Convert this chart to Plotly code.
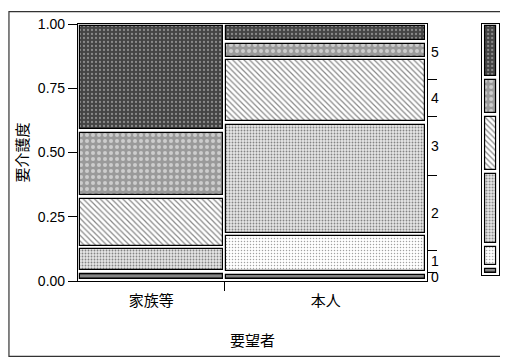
import plotly.graph_objects as go

# 要望者 (columns) and their share of the total
groups = ["家族等", "本人"]
group_share = [0.42, 0.58]

# 要介護度 levels, bottom to top
levels = ["0", "1", "2", "3", "4", "5"]

# proportion of each level within each column
kazoku = [0.035, 0.0, 0.096, 0.195, 0.257, 0.417]
honnin = [0.031, 0.150, 0.433, 0.251, 0.064, 0.071]

cols = [kazoku, honnin]

# fill patterns per level (bottom to top)
styles = [
    dict(bg="#8a8a8a", fg="#222222", shape="-", size=3, solidity=0.4),
    dict(bg="#ffffff", fg="#444444", shape=".", size=3, solidity=0.2),
    dict(bg="#e6e6e6", fg="#222222", shape=".", size=3, solidity=0.3),
    dict(bg="#ffffff", fg="#111111", shape="\\", size=4, solidity=0.3),
    dict(bg="#9a9a9a", fg="#ffffff", shape=".", size=6, solidity=0.35),
    dict(bg="#444444", fg="#cfcfcf", shape=".", size=4, solidity=0.25),
]

gap = 0.007
xgap = 0.009

# column positions
lefts = [0]
for s in group_share[:-1]:
    lefts.append(lefts[-1] + s)
centers = [l + s / 2 for l, s in zip(lefts, group_share)]

# marginal distribution of levels
marg = [sum(group_share[j] * cols[j][i] for j in range(len(cols))) for i in range(len(levels))]
mcum = [0]
for m in marg:
    mcum.append(mcum[-1] + m)
mmid = [(mcum[i] + mcum[i + 1]) / 2 for i in range(len(levels))]

fig = go.Figure()

for i, lev in enumerate(levels):
    xs, ys, bs, ws = [], [], [], []
    for j, col in enumerate(cols):
        if col[i] <= 0:
            continue
        start = sum(col[:i])
        xs.append(centers[j])
        bs.append(start + gap)
        ys.append(col[i] - 2 * gap)
        ws.append(group_share[j] - xgap)
    st = styles[i]
    pat = dict(shape=st["shape"], fgcolor=st["fg"], bgcolor=st["bg"],
               size=st["size"], solidity=st["solidity"])
    fig.add_trace(go.Bar(
        x=xs, y=ys, base=bs, width=ws, name=lev, showlegend=False,
        marker=dict(color=st["bg"], line=dict(color="black", width=1.2), pattern=pat),
        hoverinfo="skip",
    ))
    # marginal bar on the right
    fig.add_trace(go.Bar(
        x=[0.5], y=[max(marg[i] - 2 * 0.008, 0.004)], base=[mcum[i] + 0.008], width=[0.62],
        xaxis="x2", yaxis="y2", showlegend=False, hoverinfo="skip",
        marker=dict(color=st["bg"], line=dict(color="black", width=1.2), pattern=pat),
    ))

# invisible trace to hold the right-hand level axis
fig.add_trace(go.Scatter(x=[0.5] * len(mmid), y=mmid, yaxis="y3", mode="markers",
                         marker=dict(opacity=0), showlegend=False, hoverinfo="skip"))

tick_font = dict(family="Liberation Sans, Arial", size=14, color="black")
jp_font = dict(family="Noto Sans CJK JP", size=15, color="black")

# page has an 8px body margin, so the figure is 8px smaller than the window
fig.update_layout(
    width=500, height=352,
    margin=dict(l=70, r=8, t=14, b=79),
    paper_bgcolor="white", plot_bgcolor="white",
    barmode="overlay", bargap=0,
    xaxis=dict(domain=[0, 0.829], range=[0, 1], showgrid=False, zeroline=False,
               showline=True, linecolor="black", linewidth=1.2, mirror=True,
               tickvals=centers, ticktext=groups, ticks="", tickfont=jp_font,
               ticklabelstandoff=6,
               minor=dict(tickmode="array", tickvals=lefts[1:], ticks="outside",
                          ticklen=9, tickcolor="black", tickwidth=1.2),
               title=dict(text="要望者", font=jp_font, standoff=26)),
    yaxis=dict(range=[0, 1], showgrid=False, zeroline=False,
               showline=True, linecolor="black", linewidth=1.2,
               tickvals=[0, 0.25, 0.5, 0.75, 1.0], tickformat=".2f",
               ticks="outside", ticklen=9, tickcolor="black", tickwidth=1.2,
               tickfont=tick_font,
               title=dict(text="要介護度", font=jp_font, standoff=5)),
    yaxis3=dict(overlaying="y", side="right", anchor="x", range=[0, 1],
                showgrid=False, zeroline=False, showline=True, linecolor="black",
                linewidth=1.2, tickvals=mmid, ticktext=levels, ticks="",
                tickfont=tick_font,
                minor=dict(tickmode="array", tickvals=mcum[1:-1], ticks="outside",
                           ticklen=9, tickcolor="black", tickwidth=1.2)),
    xaxis2=dict(domain=[0.96, 1.0], anchor="y2", range=[0, 1], showgrid=False,
                zeroline=False, showline=True, linecolor="black", linewidth=1.2,
                mirror=True, showticklabels=False, ticks=""),
    yaxis2=dict(domain=[0.023, 1.0], anchor="x2", range=[0, 1], showgrid=False,
                zeroline=False, showline=True, linecolor="black", linewidth=1.2,
                mirror=True, showticklabels=False, ticks=""),
    shapes=[dict(type="rect", xref="paper", yref="paper",
                 x0=-0.164, x1=1.007, y0=-0.293, y1=1.048,
                 line=dict(color="#333333", width=1.2))],
)

fig.write_html("out.html")
